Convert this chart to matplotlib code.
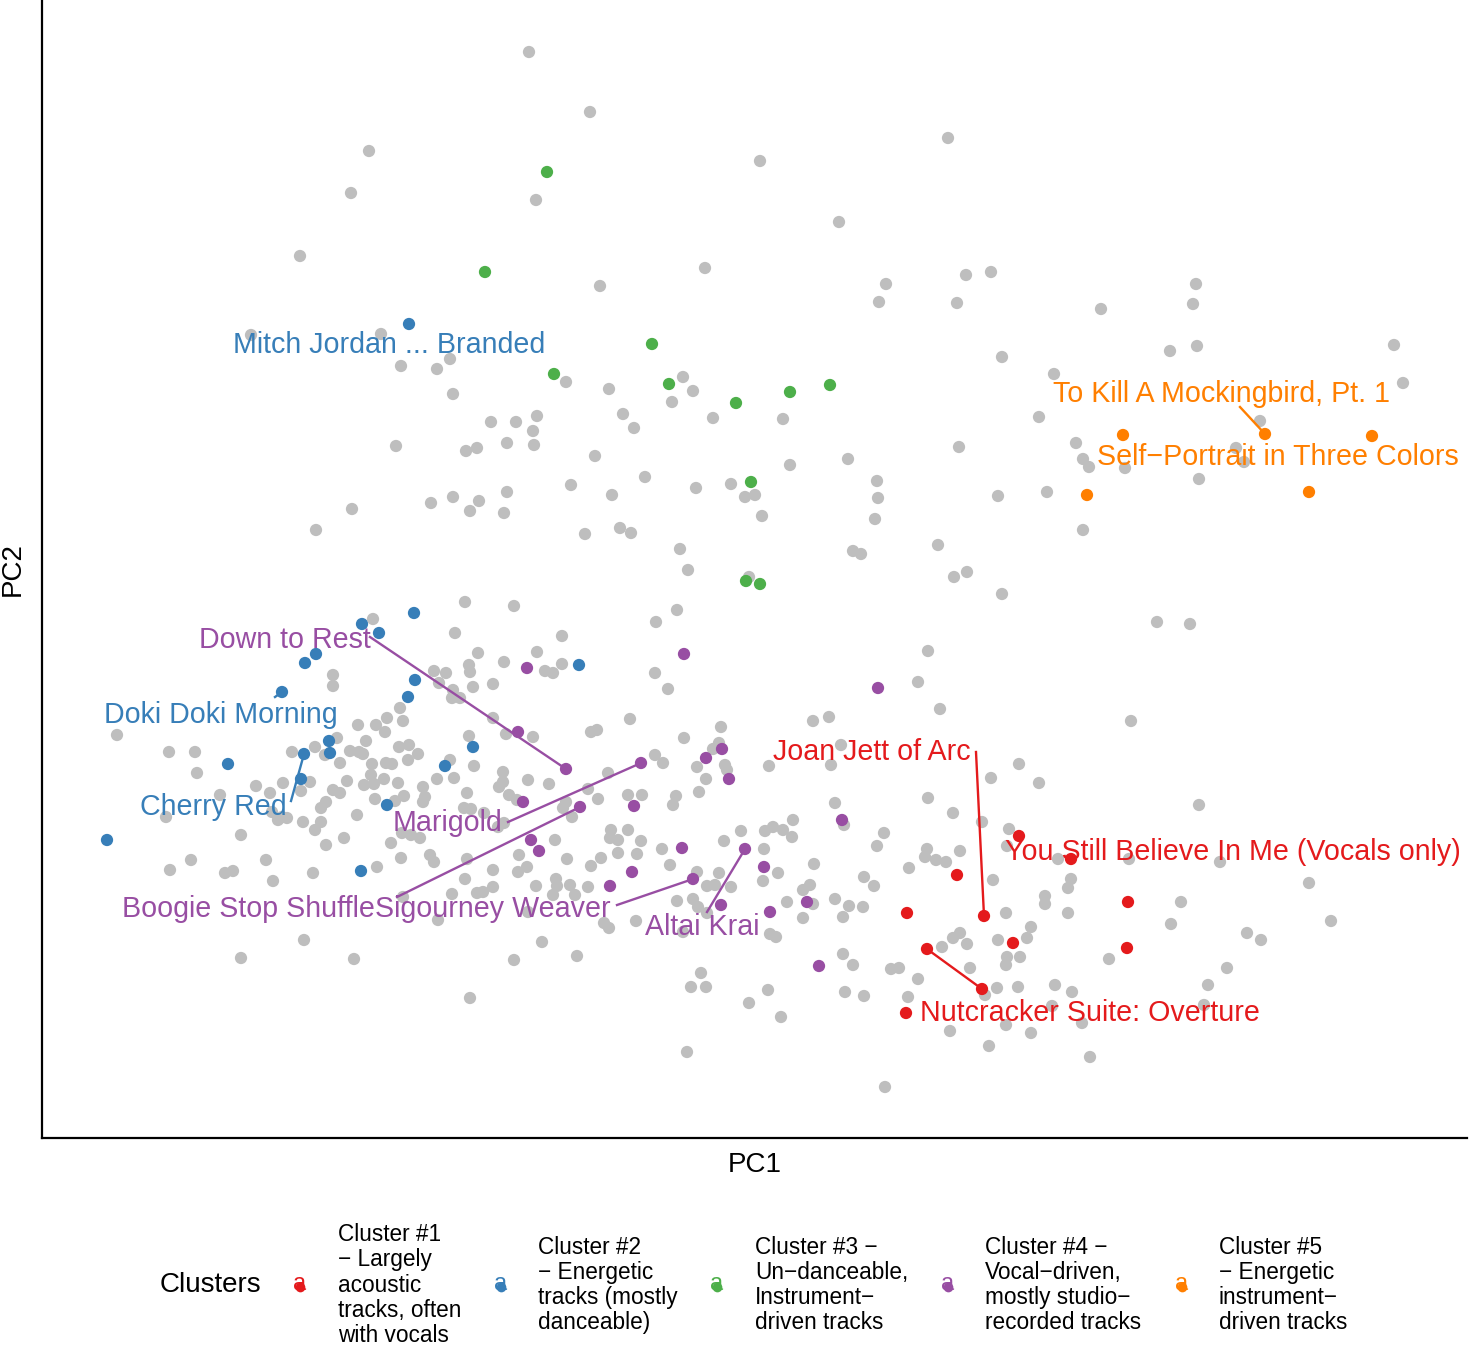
import numpy as np
import matplotlib.pyplot as plt
from matplotlib.lines import Line2D

plt.rcParams['font.family'] = ['Liberation Sans', 'DejaVu Sans']

# PCA scores of the tracks (PC1, PC2)
other_tracks = [
    (-2.21, 5.48), (-1.60, 4.88), (-3.81, 4.49), (0.10, 4.39), (-3.99, 4.07), (-2.14, 4.00),
    (1.98, 4.62), (0.89, 3.78), (-4.50, 3.44), (-0.45, 3.32), (2.16, 3.25), (2.41, 3.28),
    (-1.50, 3.14), (1.36, 3.16), (1.29, 2.98), (2.07, 2.97), (4.46, 3.16), (4.43, 2.96),
    (3.51, 2.91), (-4.99, 2.65), (-3.69, 2.66), (4.20, 2.49), (4.47, 2.54), (2.52, 2.43),
    (6.44, 2.55), (-3.00, 2.41), (-3.49, 2.34), (-3.13, 2.31), (-2.97, 2.06), (-1.84, 2.18),
    (-1.41, 2.11), (-0.67, 2.23), (-0.57, 2.09), (-0.78, 1.98), (6.53, 2.17), (3.04, 2.26),
    (2.89, 1.83), (5.10, 1.79), (2.09, 1.53), (3.26, 1.57), (3.33, 1.41), (3.39, 1.33),
    (3.75, 1.32), (4.86, 1.52), (4.94, 1.38), (4.49, 1.21), (2.97, 1.08), (2.48, 1.04),
    (1.27, 1.19), (1.28, 1.02), (1.25, 0.81), (1.03, 0.49), (1.11, 0.46), (3.33, 0.70),
    (1.88, 0.55), (2.04, 0.23), (2.17, 0.28), (2.52, 0.06), (4.07, -0.22), (4.40, -0.24),
    (-1.27, 1.86), (-0.37, 1.82), (0.33, 1.81), (-2.59, 1.78), (-2.34, 1.78), (-2.13, 1.84),
    (-2.17, 1.69), (-1.16, 1.72), (-3.54, 1.54), (-2.84, 1.49), (-2.73, 1.52), (-2.43, 1.57),
    (-2.16, 1.55), (-1.55, 1.44), (0.98, 1.41), (0.40, 1.35), (-1.05, 1.23), (-1.79, 1.15),
    (-1.38, 1.05), (-0.54, 1.12), (-0.19, 1.16), (-0.05, 1.03), (0.05, 1.05), (0.12, 0.84),
    (-3.19, 0.97), (-2.97, 1.03), (-2.71, 0.99), (-2.80, 0.89), (-2.43, 1.08), (-2.46, 0.87),
    (-1.65, 0.66), (-1.30, 0.72), (-1.19, 0.67), (-0.70, 0.51), (-0.62, 0.30), (-0.01, 0.23),
    (-4.34, 0.70), (-3.98, 0.91),
    (-2.85, -0.02), (-3.77, -0.19), (-2.95, -0.33), (-2.72, -0.53), (-2.81, -0.65), (-2.80, -0.72),
    (-3.16, -0.71), (-3.04, -0.73), (-2.77, -0.87), (-3.11, -0.83), (-2.97, -0.90), (-2.90, -0.98),
    (-2.98, -0.98), (-4.17, -0.75), (-4.17, -0.86), (-3.50, -1.08), (-3.63, -1.18), (-3.47, -1.21),
    (-3.74, -1.25), (-3.65, -1.32), (-3.92, -1.25), (-2.81, -1.36), (-6.33, -1.35), (-5.81, -1.52),
    (-5.55, -1.52), (-5.53, -1.73), (-4.58, -1.52), (-4.35, -1.47), (-4.13, -1.38), (-3.84, -1.41),
    (-4.00, -1.51), (-3.91, -1.52), (-3.87, -1.54), (-3.51, -1.47), (-3.41, -1.45), (-3.32, -1.54),
    (-3.42, -1.60), (-3.64, -1.63), (-3.58, -1.64), (-3.78, -1.64), (-4.10, -1.63), (-4.25, -1.55),
    (-2.76, -1.66), (-3.00, -1.60), (-2.96, -1.78), (-3.13, -1.79), (-3.79, -1.75), (-3.66, -1.79),
    (-3.52, -1.83), (-3.76, -1.84), (-3.86, -1.85), (-4.03, -1.81), (-4.40, -1.82), (-4.67, -1.83),
    (-4.94, -1.86), (-4.80, -1.93), (-5.30, -1.95), (-4.49, -1.91), (-4.17, -1.90), (-4.10, -1.93),
    (-3.27, -1.87), (-3.25, -1.97), (-3.27, -2.02), (-3.46, -1.96), (-3.55, -2.01), (-3.75, -1.99),
    (-2.83, -1.93), (-2.86, -2.08), (-2.79, -2.09), (-4.24, -2.02), (-4.29, -2.08), (-3.93, -2.15),
    (-4.47, -2.22), (-4.29, -2.22), (-4.35, -2.30), (-4.68, -2.17), (-4.63, -2.18), (-4.72, -2.20),
    (-5.84, -2.17), (-4.78, -2.12), (-5.09, -2.35), (-4.06, -2.38), (-4.24, -2.45), (-3.59, -2.43),
    (-3.39, -2.35), (-3.30, -2.38), (-3.48, -2.33), (-3.49, -2.58), (-3.20, -2.55), (-3.16, -2.62),
    (-2.83, -2.59), (-2.85, -2.79), (-2.98, -2.94), (-2.73, -2.93), (-3.47, -2.97), (-3.73, -2.67),
    (-4.37, -2.73), (-4.77, -2.81), (-4.84, -2.60), (-5.17, -2.71), (-5.25, -2.73), (-5.59, -2.60),
    (-5.80, -2.70), (-3.12, -3.20), (-4.46, -3.40), (-5.09, -3.58), (-3.96, -3.59), (-2.66, -2.13),
    (-2.52, -2.27), (-2.46, -2.23), (-2.80, -3.98),
    (-2.36, -0.06), (-0.73, -0.10), (-0.94, -0.22), (-1.88, -0.36), (-2.13, -0.52), (-2.46, -0.62),
    (-2.05, -0.71), (-1.97, -0.73), (-1.88, -0.64), (-2.57, -0.84), (-0.95, -0.73), (-0.82, -0.89),
    (-1.20, -1.19), (-2.57, -1.18), (-2.44, -1.34), (-2.17, -1.37), (-1.59, -1.32), (-1.53, -1.30),
    (-0.66, -1.38), (-0.29, -1.27), (-0.31, -1.43), (-0.37, -1.49), (-0.95, -1.55), (-0.87, -1.63),
    (-0.53, -1.67), (-0.25, -1.65), (-0.23, -1.70), (-0.44, -1.79), (-0.51, -1.92), (0.63, -1.21),
    (0.79, -1.17), (0.91, -1.45), (0.81, -1.65), (0.19, -1.66), (-2.47, -1.72), (-2.47, -1.82),
    (-2.51, -1.87), (-2.22, -1.80), (-2.01, -1.84), (-2.41, -1.95), (-2.33, -2.00), (-1.42, -1.73),
    (-1.62, -1.89), (-1.52, -1.99), (-1.84, -2.02), (-1.87, -2.08), (-1.78, -2.17), (-1.22, -1.95),
    (-1.08, -1.95), (-0.74, -1.96), (-0.77, -2.05), (0.85, -2.03), (0.94, -2.25), (-0.09, -2.31),
    (-0.26, -2.41), (0.15, -2.31), (0.23, -2.27), (0.33, -2.30), (0.43, -2.20), (0.42, -2.37),
    (0.14, -2.49), (0.13, -2.81), (0.28, -2.73), (0.64, -2.64), (0.53, -2.90), (0.60, -2.85),
    (0.63, -3.04), (0.37, -3.02), (0.53, -3.18), (0.85, -2.99), (0.93, -3.17), (0.99, -3.06),
    (0.93, -3.54), (1.03, -3.65), (0.20, -3.34), (0.26, -3.37), (-1.39, -2.30), (-1.22, -2.30),
    (-1.32, -2.40), (-1.40, -2.38), (-1.09, -2.41), (-1.32, -2.53), (-1.13, -2.54), (-0.88, -2.49),
    (-0.80, -2.65), (-0.53, -2.72), (-0.31, -2.73), (-0.43, -2.86), (-0.35, -2.85), (-0.19, -2.87),
    (-0.57, -2.99), (-0.73, -3.01), (-0.52, -3.07), (-0.43, -3.13), (-1.14, -3.21), (-0.67, -3.32),
    (-1.49, -2.58), (-1.59, -2.66), (-1.83, -2.59), (-1.95, -2.40), (-2.31, -2.55), (-2.23, -2.67),
    (-2.32, -2.72), (-2.57, -2.70), (-2.57, -2.87), (-2.67, -2.92), (-2.14, -2.86), (-1.94, -2.79),
    (-1.93, -2.86), (-1.80, -2.85), (-1.75, -2.95), (-1.97, -2.95), (-1.62, -2.87), (-2.22, -3.12),
    (-1.46, -3.23), (-1.41, -3.28), (-2.08, -3.42), (-1.73, -3.56), (-2.36, -3.60), (-0.49, -3.73),
    (-0.63, -4.52), (-0.59, -3.87), (-0.44, -3.87), (-0.01, -4.03), (0.18, -3.90), (0.31, -4.17),
    (0.95, -3.92),
    (1.78, -0.51), (1.68, -0.82), (1.90, -1.09), (3.81, -1.21), (2.69, -1.64), (2.41, -1.78),
    (2.89, -1.83), (1.78, -1.98), (2.03, -2.13), (4.49, -2.05), (2.32, -2.22), (2.59, -2.29),
    (1.34, -2.33), (1.27, -2.46), (1.77, -2.49), (2.57, -2.46), (2.10, -2.51), (1.75, -2.57),
    (1.86, -2.60), (1.96, -2.62), (1.59, -2.68), (1.14, -2.77), (1.24, -2.86), (1.13, -3.07),
    (3.08, -2.59), (3.79, -2.59), (4.70, -2.62), (5.59, -2.83), (2.43, -2.80), (3.21, -2.79),
    (3.18, -2.88), (2.95, -2.96), (2.95, -3.04), (3.18, -3.13), (2.56, -3.13), (4.31, -3.02),
    (4.21, -3.24), (5.81, -3.21), (4.97, -3.33), (5.11, -3.40), (2.81, -3.27), (2.77, -3.38),
    (2.10, -3.33), (2.03, -3.38), (2.17, -3.44), (2.48, -3.40), (1.92, -3.47), (2.57, -3.57),
    (2.70, -3.57), (2.56, -3.65), (2.20, -3.68), (1.49, -3.68), (1.41, -3.69), (1.68, -3.79),
    (3.59, -3.59), (4.77, -3.68), (4.58, -3.85), (2.47, -3.88), (2.68, -3.87), (3.05, -3.85),
    (3.22, -3.92), (2.35, -3.95), (1.58, -3.97), (1.14, -3.96), (4.54, -4.05), (3.02, -4.06),
    (3.32, -4.23), (2.56, -4.25), (2.00, -4.31), (2.81, -4.33), (2.39, -4.46), (3.40, -4.57),
    (1.35, -4.87),
]

cluster1 = [(2.69, -2.36), (3.21, -2.59), (2.07, -2.75), (1.57, -3.13), (2.34, -3.16), (2.63, -3.43),
            (3.78, -3.02), (3.77, -3.48), (1.77, -3.49), (2.32, -3.89), (1.56, -4.13)]
cluster2 = [(-3.41, 2.76), (-3.36, -0.13), (-3.88, -0.24), (-3.71, -0.33), (-4.34, -0.54), (-4.45, -0.63),
            (-4.68, -0.92), (-3.35, -0.80), (-3.42, -0.97), (-1.71, -0.65), (-4.21, -1.41), (-4.20, -1.53),
            (-4.46, -1.54), (-5.22, -1.64), (-2.77, -1.47), (-3.05, -1.66), (-4.49, -1.79), (-3.63, -2.05),
            (-6.43, -2.40), (-3.89, -2.71)]
cluster3 = [(-2.03, 4.28), (-2.65, 3.28), (-0.98, 2.56), (-1.96, 2.26), (-0.81, 2.16), (0.40, 2.08),
            (0.80, 2.15), (-0.14, 1.97), (0.01, 1.18), (-0.04, 0.19), (0.10, 0.16)]
cluster4 = [(-2.23, -0.68), (-0.66, -0.54), (1.28, -0.88), (-2.32, -1.32), (-1.84, -1.69), (-1.09, -1.63),
            (-0.28, -1.49), (-0.44, -1.58), (-0.21, -1.79), (-2.27, -2.02), (-1.70, -2.07), (-1.16, -2.06),
            (0.92, -2.20), (-2.19, -2.40), (-2.11, -2.51), (-0.68, -2.48), (-0.05, -2.49), (0.14, -2.67),
            (-1.18, -2.72), (-0.57, -2.79), (-1.40, -2.86), (-0.29, -3.05), (0.20, -3.12), (0.57, -3.02),
            (0.69, -3.66)]
cluster5 = [(3.73, 1.65), (5.15, 1.66), (6.22, 1.64), (3.37, 1.05), (5.59, 1.08)]

cluster_points = [cluster1, cluster2, cluster3, cluster4, cluster5]
cluster_colors = ['#E41A1C', '#377EB8', '#4DAF4A', '#984EA3', '#FF7F00']
cluster_names = [
    'Cluster #1\n\u2212 Largely\nacoustic\ntracks, often\nwith vocals',
    'Cluster #2\n\u2212 Energetic\ntracks (mostly\ndanceable)',
    'Cluster #3 \u2212\nUn\u2212danceable,\nInstrument\u2212\ndriven tracks',
    'Cluster #4 \u2212\nVocal\u2212driven,\nmostly studio\u2212\nrecorded tracks',
    'Cluster #5\n\u2212 Energetic\ninstrument\u2212\ndriven tracks',
]

# labelled tracks: (title, cluster index, label position, labelled point or None)
track_labels = [
    ('Mitch Jordan ... Branded', 1, (-3.61, 2.55), None),
    ('Down to Rest', 3, (-4.65, -0.40), (-1.84, -1.69)),
    ('Doki Doki Morning', 1, (-5.29, -1.15), (-4.68, -0.92)),
    ('Cherry Red', 1, (-5.37, -2.07), (-4.46, -1.54)),
    ('Marigold', 3, (-3.02, -2.23), (-1.09, -1.63)),
    ('Boogie Stop Shuffle', 3, (-5.02, -3.09), (-1.70, -2.07)),
    ('Sigourney Weaver', 3, (-2.57, -3.09), (-0.57, -2.79)),
    ('Altai Krai', 3, (-0.48, -3.27), (-0.05, -2.49)),
    ('Joan Jett of Arc', 0, (1.22, -1.52), (2.34, -3.16)),
    ('You Still Believe In Me (Vocals only)', 0, (4.83, -2.52), None),
    ('Nutcracker Suite: Overture', 0, (3.40, -4.13), (1.77, -3.49)),
    ('To Kill A Mockingbird, Pt. 1', 4, (4.72, 2.06), (5.15, 1.66)),
    ('Self\u2212Portrait in Three Colors', 4, (5.28, 1.43), None),
]
# where each connector leaves its label
segment_starts = [None, (-3.80, -0.37), (-4.75, -0.97), (-4.59, -2.01), (-2.42, -2.22),
                  (-3.53, -2.97), (-1.33, -3.05), (-0.43, -3.12), (2.26, -1.52), None,
                  (2.32, -3.89), (4.90, 1.93), None]

fig = plt.figure(figsize=(14.69, 13.5), dpi=100)
ax = fig.add_axes([42 / 1469, 1 - 1138 / 1350, 1425 / 1469, 1138 / 1350])

grey = np.array(other_tracks)
ax.scatter(grey[:, 0], grey[:, 1], s=78, color='#BEBEBE', edgecolors='none', zorder=2)
for pts, col in zip(cluster_points, cluster_colors):
    pts = np.array(pts)
    ax.scatter(pts[:, 0], pts[:, 1], s=78, color=col, edgecolors='none', zorder=3)

for (name, ci, pos, target), start in zip(track_labels, segment_starts):
    col = cluster_colors[ci]
    if target is not None and start is not None:
        ax.plot([start[0], target[0]], [start[1], target[1]], color=col, lw=1.7, zorder=4)
    ax.text(pos[0], pos[1], name, color=col, fontsize=20.6, ha='center', va='center', zorder=5)

ax.set_xlim(-7.08, 7.17)
ax.set_ylim(-5.38, 6.00)
ax.set_xticks([])
ax.set_yticks([])
for side in ['top', 'right']:
    ax.spines[side].set_visible(False)
for side in ['left', 'bottom']:
    ax.spines[side].set_linewidth(1.6)
    ax.spines[side].set_color('black')
ax.set_xlabel('PC1', fontsize=20, labelpad=10)
ax.set_ylabel('PC2', fontsize=20, labelpad=12)

# legend drawn by hand, laid out like ggplot's bottom legend
fig.text(160 / 1469, 1 - 1285 / 1350, 'Clusters', fontsize=20, ha='left', va='center')
key_x = [300, 501, 717, 948, 1182]
text_x = [338, 538, 755, 985, 1219]
for kx, tx, col, name in zip(key_x, text_x, cluster_colors, cluster_names):
    fig.text(kx / 1469, 1 - 1284 / 1350, 'a', color=col, fontsize=17, ha='center', va='center')
    fig.add_artist(Line2D([kx / 1469], [1 - 1287 / 1350], marker='o', markersize=7,
                          color=col, markeredgewidth=0, transform=fig.transFigure))
    fig.text(tx / 1469, 1 - 1285 / 1350, name, fontsize=16.3, ha='left', va='center',
             linespacing=1.12)

fig.savefig('out.png', dpi=100)
